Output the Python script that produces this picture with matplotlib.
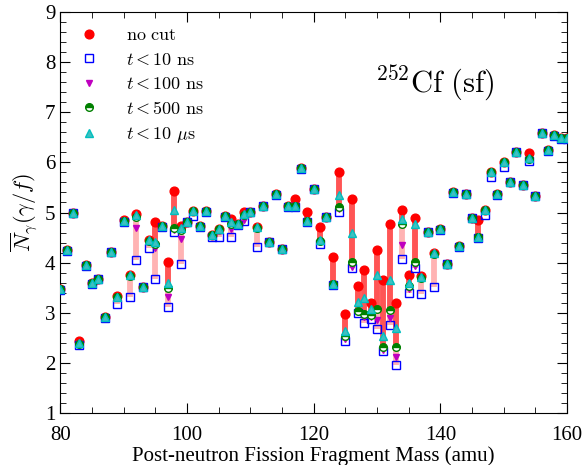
import matplotlib
matplotlib.use('Agg')
import matplotlib.pyplot as plt
from matplotlib.ticker import MultipleLocator

plt.rcParams['font.family'] = 'Liberation Serif'
plt.rcParams['mathtext.fontset'] = 'cm'

# fragment masses
mass = list(range(80, 161))

# gamma multiplicity per fragment, for each time cut
no_cut = [3.47, 4.25, 5.00, 2.45, 3.95, 3.59, 3.68, 2.91, 4.22, 3.33,
          4.85, 3.76, 4.97, 3.52, 4.46, 4.82, 4.73, 4.02, 5.43, 4.74,
          4.82, 5.03, 4.73, 5.03, 4.55, 4.67, 4.93, 4.88, 4.77, 5.02,
          5.02, 4.72, 5.13, 4.42, 5.36, 4.28, 5.12, 5.27, 5.88, 5.02,
          5.47, 4.72, 4.92, 4.11, 5.80, 2.97, 5.27, 3.54, 3.85, 3.19,
          4.25, 3.66, 4.78, 3.19, 5.04, 3.75, 4.89, 3.74, 4.62, 4.20,
          4.67, 3.98, 5.40, 4.33, 5.37, 4.90, 4.85, 5.05, 5.80, 5.36,
          6.00, 5.61, 6.21, 5.55, 6.19, 5.33, 6.59, 6.24, 6.54, 6.48,
          6.48]
cut_10ns = [3.45, 4.24, 4.99, 2.36, 3.94, 3.58, 3.67, 2.90, 4.21, 3.17,
            4.82, 3.31, 4.05, 3.51, 4.30, 3.68, 4.72, 3.12, 4.62, 3.97,
            4.81, 4.94, 4.72, 5.02, 4.51, 4.52, 4.92, 4.52, 4.76, 4.84,
            5.01, 4.32, 5.12, 4.41, 5.35, 4.27, 5.11, 5.11, 5.87, 4.82,
            5.46, 4.37, 4.91, 3.55, 5.02, 2.44, 3.89, 3.00, 2.79, 2.88,
            2.67, 2.24, 2.76, 1.96, 4.07, 3.40, 3.90, 3.37, 4.61, 3.52,
            4.66, 3.97, 5.39, 4.32, 5.36, 4.89, 4.50, 4.96, 5.71, 5.35,
            5.91, 5.60, 6.20, 5.54, 6.03, 5.32, 6.58, 6.23, 6.53, 6.47,
            6.47]
cut_100ns = [3.46, 4.25, 5.00, 2.38, 3.95, 3.59, 3.68, 2.91, 4.22, 3.30,
             4.83, 3.72, 4.69, 3.52, 4.42, 4.29, 4.73, 3.32, 4.65, 4.47,
             4.82, 5.02, 4.73, 5.03, 4.54, 4.66, 4.93, 4.68, 4.77, 4.85,
             5.02, 4.68, 5.13, 4.42, 5.36, 4.28, 5.12, 5.12, 5.88, 4.84,
             5.47, 4.42, 4.92, 3.57, 5.07, 2.48, 3.92, 3.02, 2.92, 2.92,
             2.85, 2.27, 2.89, 2.13, 4.35, 3.48, 3.93, 3.68, 4.62, 4.17,
             4.67, 3.98, 5.40, 4.33, 5.37, 4.90, 4.52, 5.04, 5.79, 5.36,
             5.99, 5.61, 6.21, 5.55, 6.05, 5.33, 6.59, 6.24, 6.54, 6.48,
             6.48]
cut_500ns = [3.47, 4.25, 5.00, 2.39, 3.95, 3.59, 3.68, 2.91, 4.22, 3.31,
             4.83, 3.74, 4.92, 3.52, 4.44, 4.38, 4.73, 3.50, 4.69, 4.66,
             4.82, 5.03, 4.73, 5.03, 4.55, 4.67, 4.93, 4.78, 4.77, 4.95,
             5.02, 4.70, 5.13, 4.42, 5.36, 4.28, 5.12, 5.12, 5.88, 4.84,
             5.47, 4.44, 4.92, 3.57, 5.10, 2.53, 4.02, 3.03, 2.98, 2.96,
             3.07, 2.33, 3.06, 2.33, 4.78, 3.53, 4.02, 3.70, 4.62, 4.18,
             4.67, 3.98, 5.40, 4.33, 5.37, 4.90, 4.52, 5.05, 5.80, 5.36,
             6.00, 5.61, 6.21, 5.55, 6.07, 5.33, 6.59, 6.24, 6.54, 6.48,
             6.48]
cut_10us = [3.47, 4.25, 5.00, 2.40, 3.95, 3.59, 3.68, 2.91, 4.22, 3.32,
            4.83, 3.75, 4.95, 3.52, 4.45, 4.42, 4.73, 3.59, 5.04, 4.70,
            4.82, 5.03, 4.73, 5.03, 4.55, 4.67, 4.93, 4.82, 4.77, 4.98,
            5.02, 4.71, 5.13, 4.42, 5.36, 4.28, 5.12, 5.12, 5.88, 4.84,
            5.47, 4.45, 4.92, 3.57, 5.35, 2.63, 4.59, 3.22, 3.30, 3.08,
            3.76, 2.53, 3.66, 2.69, 4.87, 3.60, 4.78, 3.72, 4.62, 4.19,
            4.67, 3.98, 5.40, 4.33, 5.37, 4.90, 4.52, 5.05, 5.80, 5.36,
            6.00, 5.61, 6.21, 5.55, 6.08, 5.33, 6.59, 6.24, 6.54, 6.48,
            6.48]

fig = plt.figure(figsize=(5.86, 4.65), dpi=100)
ax = fig.add_axes([0.1032, 0.1112, 0.8644, 0.8636])

# bars showing the spread between cuts
ax.vlines(mass, cut_10ns, no_cut, colors='#ffb3b3', linewidth=4.2, zorder=1)
ax.vlines(mass, cut_500ns, no_cut, colors='#ff5555', linewidth=4.2, zorder=2)

ax.plot(mass, no_cut, 'o', color='red', ms=6.3, label='$\\mathrm{no\\ cut}$', zorder=3)
ax.plot(mass, cut_10ns, 's', mfc='none', mec='blue', mew=1.0, ms=5.5,
        label='$t < 10\\ \\mathrm{ns}$', zorder=4)
ax.plot(mass, cut_100ns, 'v', color='m', ms=5, label='$t < 100\\ \\mathrm{ns}$', zorder=5)
ax.plot(mass, cut_500ns, 'o', color='green', fillstyle='top', mfc='green',
        mfcalt='white', ms=5.5, mew=1.0, label='$t < 500\\ \\mathrm{ns}$', zorder=6)
ax.plot(mass, cut_10us, '^', mec='c', mfc='#40c0c0', mew=1.0, ms=5.5,
        label='$t < 10\\ \\mu\\mathrm{s}$', zorder=7)

ax.set_xlim(80, 160)
ax.set_ylim(1, 9)
ax.xaxis.set_major_locator(MultipleLocator(20))
ax.xaxis.set_minor_locator(MultipleLocator(5))
ax.yaxis.set_major_locator(MultipleLocator(1))
ax.yaxis.set_minor_locator(MultipleLocator(0.2))
ax.tick_params(which='both', direction='in', top=True, right=True, labelsize=15)
ax.tick_params(which='major', length=7)
ax.tick_params(which='minor', length=4)
ax.tick_params(axis='x', which='major', pad=9)

ax.set_xlabel('Post-neutron Fission Fragment Mass (amu)', fontsize=15, labelpad=1)
ax.set_ylabel('$\\overline{N}_\\gamma(\\gamma/f)$', fontsize=16, labelpad=4)

ax.text(0.62, 0.80, '$^{252}\\mathrm{Cf\\ (sf)}$', transform=ax.transAxes,
        fontsize=22)

ax.legend(loc='upper left', frameon=False, fontsize=13, handletextpad=1.3,
          labelspacing=0.42, borderaxespad=0.45, handlelength=1.5)

fig.savefig('out.png', dpi=100)
